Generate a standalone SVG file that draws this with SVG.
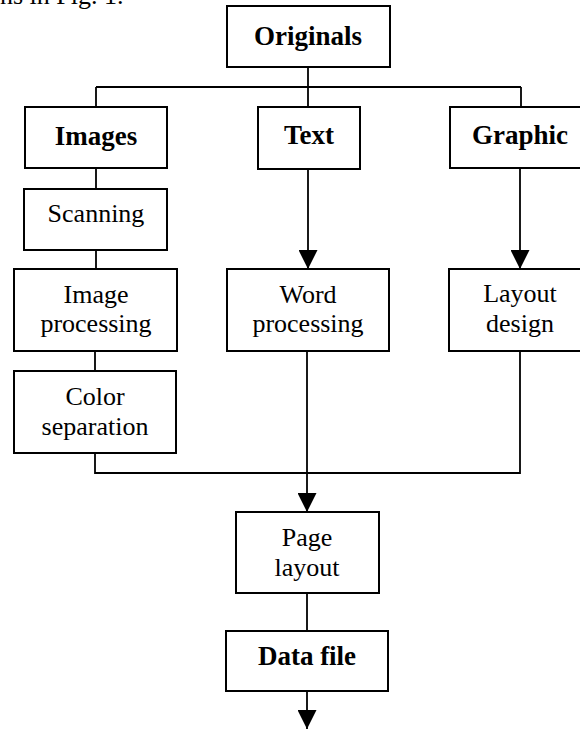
<svg xmlns="http://www.w3.org/2000/svg" width="580" height="729" viewBox="0 0 580 729">
<style>
.box{fill:#fff;stroke:#000;stroke-width:2}
.t{font-family:"Liberation Serif","Times New Roman",serif;font-size:26px;fill:#000;text-anchor:middle}
.b{font-weight:bold;font-size:27px}
.c{fill:none;stroke:#000;stroke-width:1.8}
</style>
<defs>
<marker id="ah" markerUnits="userSpaceOnUse" markerWidth="20" markerHeight="19" refX="19" refY="9.5" orient="auto">
<path d="M0,0 L19,9.5 L0,19 Z" fill="#000"/>
</marker>
</defs>
<text class="t" x="0" y="4" style="text-anchor:start">ns in Fig. 1.</text>
<g id="connectors">
<path class="c" d="M308,67 V87 M96,87 H521 M96,87 V107 M308,87 V107 M521,87 V107"/>
<path class="c" d="M96,168 V189 M96,250 V269 M95,351 V371"/>
<path class="c" d="M308,169 V269" marker-end="url(#ah)"/>
<path class="c" d="M520,168 V269" marker-end="url(#ah)"/>
<path class="c" d="M95,453 V473 H520 V351"/>
<path class="c" d="M307,351 V512" marker-end="url(#ah)"/>
<path class="c" d="M307,593 V631"/>
<path class="c" d="M307,691 V729" marker-end="url(#ah)"/>
</g>
<g id="originals"><rect class="box" x="227" y="6" width="163" height="61"/><text class="t b" x="308" y="45">Originals</text></g>
<g id="images"><rect class="box" x="25" y="107" width="142" height="61"/><text class="t b" x="96" y="145">Images</text></g>
<g id="text"><rect class="box" x="258" y="107" width="102" height="62"/><text class="t b" x="309" y="144">Text</text></g>
<g id="graphic"><rect class="box" x="450" y="107" width="140" height="61"/><text class="t b" x="520" y="144">Graphic</text></g>
<g id="scanning"><rect class="box" x="24" y="189" width="143" height="61"/><text class="t" x="96" y="222">Scanning</text></g>
<g id="image-processing"><rect class="box" x="14" y="269" width="163" height="82"/><text class="t" x="96" y="303">Image</text><text class="t" x="96" y="332">processing</text></g>
<g id="word-processing"><rect class="box" x="227" y="269" width="162" height="82"/><text class="t" x="308" y="303">Word</text><text class="t" x="308" y="332">processing</text></g>
<g id="layout-design"><rect class="box" x="449" y="269" width="142" height="82"/><text class="t" x="520" y="302">Layout</text><text class="t" x="520" y="332">design</text></g>
<g id="color-separation"><rect class="box" x="14" y="371" width="162" height="82"/><text class="t" x="95" y="405">Color</text><text class="t" x="95" y="435">separation</text></g>
<g id="page-layout"><rect class="box" x="236" y="512" width="143" height="81"/><text class="t" x="307" y="546">Page</text><text class="t" x="307" y="576">layout</text></g>
<g id="data-file"><rect class="box" x="226" y="631" width="162" height="60"/><text class="t b" x="307" y="665">Data file</text></g>
</svg>
